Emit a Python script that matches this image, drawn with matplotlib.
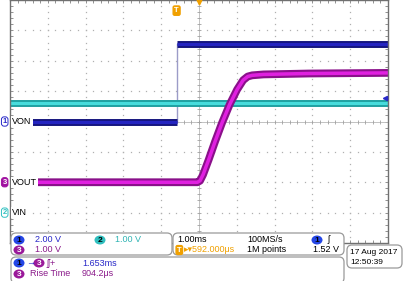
import numpy as np
import matplotlib
matplotlib.use("Agg")
import matplotlib.pyplot as plt
from matplotlib.patches import FancyBboxPatch, Ellipse

plt.rcParams["font.family"] = ["Liberation Sans", "DejaVu Sans"]

# --- scope data (time in ms from trigger, volts) ---
von_t = [-4.408, 0.0, 0.0, 5.592]
von_v = [0.0, 0.0, 5.1, 5.1]
vin_t = [-4.408, 5.592]
vin_v = [3.6, 3.6]
vout_t = [-4.408, 0.55, 0.62, 0.70, 0.85, 1.02, 1.20, 1.40, 1.60, 1.76, 1.88, 2.00, 2.30, 3.50, 5.592]
vout_v = [0.0, 0.0, 0.05, 0.25, 0.75, 1.35, 1.95, 2.55, 3.05, 3.36, 3.48, 3.52, 3.55, 3.58, 3.60]

# channel settings: V/div and ground offset (div from center)
scale = {1: 2.0, 2: 1.0, 3: 1.0}
offset = {1: 0.0, 2: -3.0, 3: -2.0}
h_pos = 0.592  # ms, centre of screen after trigger
trig_level = 1.52

BLUE, CYAN, MAG, ORANGE = "#2828c8", "#30c0c0", "#b010b0", "#f0a000"

fig = plt.figure(figsize=(4.03, 2.81), dpi=100)
ax = fig.add_axes([10 / 403, 38 / 281, 378 / 403, 243 / 281])
ax.set_xlim(h_pos - 5, h_pos + 5)
ax.set_ylim(-4, 4)

# graticule
for s in ax.spines.values():
    s.set_color("#707070")
    s.set_linewidth(1.0)
ax.set_xticks(np.arange(h_pos - 5, h_pos + 5.01, 0.2))
ax.set_yticks(np.arange(-4, 4.01, 0.2))
ax.tick_params(direction="in", length=2, width=0.6, color="#808080",
               top=True, right=True, labelbottom=False, labelleft=False)

ys = np.arange(-4, 4.01, 0.2)
xs = np.arange(h_pos - 5, h_pos + 5.01, 0.2)
for k in range(-4, 5):
    if k == 0:
        continue
    ax.plot(np.full_like(ys, h_pos + k), ys, ls="none", marker="s", ms=0.9,
            mew=0, color="#b0b0b0")
for k in range(-3, 4):
    if k == 0:
        continue
    ax.plot(xs, np.full_like(xs, k), ls="none", marker="s", ms=0.9,
            mew=0, color="#b0b0b0")
ax.axhline(0, color="#b8b8b8", lw=0.6)
ax.axvline(h_pos, color="#b8b8b8", lw=0.6)
ax.plot(xs, np.zeros_like(xs), ls="none", marker="|", ms=3, mew=0.6, color="#a0a0a0")
ax.plot(np.full_like(ys, h_pos), ys, ls="none", marker="_", ms=3, mew=0.6, color="#a0a0a0")


def to_div(v, ch):
    return np.asarray(v) / scale[ch] + offset[ch]


def band(t, v, ch, outer, core, w=4.5):
    y = to_div(v, ch)
    ax.plot(t, y, color=outer, lw=w, solid_capstyle="butt", solid_joinstyle="round")
    ax.plot(t, y, color=core, lw=w * 0.45, solid_capstyle="butt", solid_joinstyle="round")


# traces
ax.plot(von_t[1:3], to_div(von_v[1:3], 1), color="#9c9cc8", lw=1.0)
band(vin_t, vin_v, 2, "#1fa0a0", "#48dcdc", 5.0)
band(von_t[:2], von_v[:2], 1, "#16167e", "#2424c0", 5.0)
band(von_t[2:], von_v[2:], 1, "#16167e", "#2424c0", 5.0)
band(vout_t, vout_v, 3, "#8a108a", "#e020e0", 5.6)

# channel labels inside graticule
x0 = h_pos - 5 + 0.06
for ch, name in [(1, "VON"), (3, "VOUT"), (2, "VIN")]:
    ax.text(x0, offset[ch], name, fontsize=6.5, va="center", ha="left", color="black",
            bbox=dict(boxstyle="square,pad=0.1", fc="white", ec="none"), zorder=5)

# ground markers at left
marks = {1: ("white", BLUE, BLUE), 2: ("white", CYAN, CYAN), 3: ("#a010a0", "#a010a0", "white")}
for ch, (fc, ec, tc) in marks.items():
    ax.text(-0.014, offset[ch], str(ch), transform=ax.get_yaxis_transform(),
            fontsize=5.5, fontweight="bold", ha="center", va="center", color=tc, clip_on=False,
            bbox=dict(boxstyle="round,pad=0.15,rounding_size=0.35", fc=fc, ec=ec, lw=0.7), zorder=6)

# trigger markers
ax.text(0.0, 3.65, "T", fontsize=5.5, color="white", ha="center", va="center", fontweight="bold",
        bbox=dict(boxstyle="round,pad=0.15,rounding_size=0.2", fc=ORANGE, ec=ORANGE), zorder=6)
ax.plot([h_pos], [3.93], marker="v", ms=3.5, color=ORANGE, clip_on=False, zorder=6)
ax.plot([h_pos + 4.92], [to_div(trig_level, 1)], marker="<", ms=3, color=BLUE, zorder=6)

# readout overlay in pixel coords
ui = fig.add_axes([0, 0, 1, 1], zorder=10)
ui.set_xlim(0, 403)
ui.set_ylim(281, 0)
ui.axis("off")
ui.patch.set_visible(False)


def box(x, y, w, h):
    ui.add_patch(FancyBboxPatch((x, y), w, h, boxstyle="round,pad=0,rounding_size=5",
                                fc="white", ec="#9a9a9a", lw=0.9))


def badge(x, y, txt, fc, tc="black", w=11, h=9):
    ui.add_patch(Ellipse((x, y), w, h, fc=fc, ec="none"))
    ui.text(x, y + 0.3, txt, fontsize=6, fontweight="bold", color=tc, ha="center", va="center")


def t(x, y, s, c="black", ha="left", fs=6.5):
    ui.text(x, y, s, fontsize=fs, color=c, ha=ha, va="center")


box(11, 233, 161, 22)
box(173, 233, 171, 22)
box(11, 257, 333, 26)
box(347, 245, 55, 23)

badge(19, 240, "1", "#2446e6")
t(35, 240, "2.00 V", BLUE)
badge(100, 240, "2", CYAN)
t(115, 240, "1.00 V", "#2fb4b4")
badge(19, 250, "3", "#9a1a9a", "white")
t(35, 250, "1.00 V", "#8a1a8a")

t(177, 240, "1.00ms")
t(247, 240, "100MS/s")
badge(317, 240, "1", "#2446e6")
t(328, 240, "ʃ")
ui.text(177, 250, "T", fontsize=5.5, color="white", ha="left", va="center", fontweight="bold",
        bbox=dict(boxstyle="round,pad=0.12,rounding_size=0.2", fc=ORANGE, ec=ORANGE))
t(184, 250, "▸▾592.000μs", ORANGE)
t(247, 250, "1M points")
t(339, 250, "1.52 V", ha="right")

badge(19, 263, "1", "#2446e6")
t(26, 263, "→", BLUE)
badge(39, 263, "3", "#9a1a9a", "white")
t(47, 263, "ʃʃ+", "#8a1a8a")
t(82, 263, "1.653ms", BLUE)
badge(19, 274, "3", "#9a1a9a", "white")
t(30, 274, "Rise Time", "#8a1a8a")
t(82, 274, "904.2μs", "#8a1a8a")

t(350, 252, "17 Aug 2017", fs=6.0)
t(350, 263, "12:50:39", fs=6.0)

fig.savefig("out.png", dpi=100)
